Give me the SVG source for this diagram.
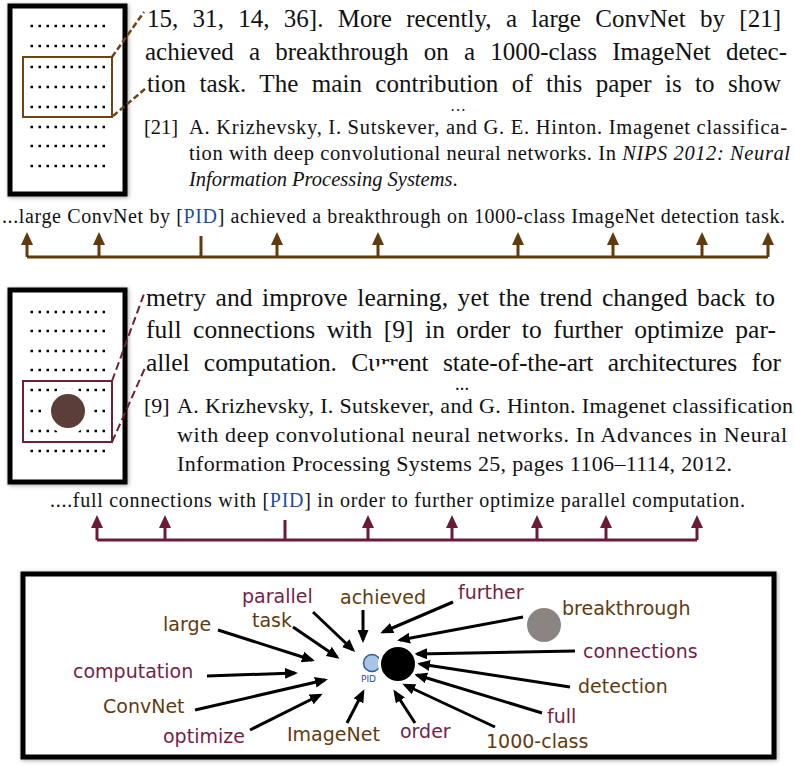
<svg xmlns="http://www.w3.org/2000/svg" width="795" height="766" viewBox="0 0 795 766">
<style>
.serif{font-family:"Liberation Serif","Times New Roman",serif;fill:#111}
.sans{font-family:"DejaVu Sans","Liberation Sans",sans-serif;font-size:19px}
.br{fill:#613b0d}
.mr{fill:#731f45}
.pid{fill:#1f4f9c}
.frame{fill:#fff;stroke:#000;stroke-width:5}
.dots{stroke:#000;stroke-width:2.5;stroke-dasharray:2.5 5.5}
.tlb{stroke:#613b0d;stroke-width:3;fill:none}
.tlm{stroke:#6b1a38;stroke-width:3;fill:none}
.ka{stroke:#000;stroke-width:3;fill:none;marker-end:url(#ak)}
</style>
<defs>
<filter id="sh" x="-10%" y="-10%" width="120%" height="120%"><feDropShadow dx="1" dy="1" stdDeviation="2" flood-color="#000" flood-opacity="0.35"/></filter>
<marker id="ak" markerWidth="13" markerHeight="11" refX="10" refY="5.5" orient="auto" markerUnits="userSpaceOnUse"><path d="M0,0 L13,5.5 L0,11 z" fill="#000"/></marker>
<marker id="ab" markerWidth="13" markerHeight="12" refX="0" refY="6" orient="auto" markerUnits="userSpaceOnUse"><path d="M0,0 L13,6 L0,12 z" fill="#613b0d"/></marker>
<marker id="am" markerWidth="13" markerHeight="12" refX="0" refY="6" orient="auto" markerUnits="userSpaceOnUse"><path d="M0,0 L13,6 L0,12 z" fill="#6b1a38"/></marker>
</defs>
<rect width="795" height="766" fill="#fff"/>

<!-- Section 1 page icon -->
<g id="page1">
<rect class="frame" x="10" y="6" width="115" height="188" filter="url(#sh)"/>
<line class="dots" x1="30.5" y1="26" x2="105" y2="26"/>
<line class="dots" x1="30.5" y1="46" x2="105" y2="46"/>
<line class="dots" x1="30.5" y1="67" x2="105" y2="67"/>
<line class="dots" x1="30.5" y1="87" x2="105" y2="87"/>
<line class="dots" x1="30.5" y1="107" x2="105" y2="107"/>
<line class="dots" x1="30.5" y1="127" x2="105" y2="127"/>
<line class="dots" x1="30.5" y1="146" x2="105" y2="146"/>
<line class="dots" x1="30.5" y1="166" x2="105" y2="166"/>
<rect x="23" y="57" width="89" height="60" fill="none" stroke="#6b4413" stroke-width="2"/>
<line x1="112" y1="57" x2="144" y2="12" stroke="#6b4413" stroke-width="2.5" stroke-dasharray="6 3"/>
<line x1="113" y1="116" x2="145" y2="89" stroke="#6b4413" stroke-width="2.5" stroke-dasharray="6 3"/>
</g>

<g id="text1" class="serif" font-size="25">
<text x="147" y="27" word-spacing="8" textLength="634" lengthAdjust="spacing">15, 31, 14, 36]. More recently, a large ConvNet by [21]</text>
<text x="145" y="60" word-spacing="9" textLength="642" lengthAdjust="spacing">achieved a breakthrough on a 1000-class ImageNet detec-</text>
<text x="147" y="92" word-spacing="7" textLength="634" lengthAdjust="spacing">tion task. The main contribution of this paper is to show</text>
<text x="450" y="111" font-size="16">…</text>
</g>
<g id="ref1" class="serif" font-size="20.5">
<text x="144" y="134">[21]</text>
<text x="189" y="134" textLength="598" lengthAdjust="spacing">A. Krizhevsky, I. Sutskever, and G. E. Hinton. Imagenet classifica-</text>
<text x="189" y="160" textLength="601" lengthAdjust="spacing">tion with deep convolutional neural networks. In <tspan font-style="italic">NIPS 2012: Neural</tspan></text>
<text x="189" y="186"><tspan font-style="italic">Information Processing Systems</tspan>.</text>
</g>

<g id="sentence1" class="serif" font-size="20">
<text x="2" y="223" textLength="783" lengthAdjust="spacing">...large ConvNet by [<tspan class="pid">PID</tspan>] achieved a breakthrough on 1000-class ImageNet detection task.</text>
</g>
<g id="connectors1">
<path class="tlb" d="M27,257 H768 M201,257 V236"/>
<path class="tlb" marker-end="url(#ab)" d="M27,257 V245"/>
<path class="tlb" marker-end="url(#ab)" d="M99,257 V245"/>
<path class="tlb" marker-end="url(#ab)" d="M277,257 V245"/>
<path class="tlb" marker-end="url(#ab)" d="M378,257 V245"/>
<path class="tlb" marker-end="url(#ab)" d="M518,257 V245"/>
<path class="tlb" marker-end="url(#ab)" d="M613,257 V245"/>
<path class="tlb" marker-end="url(#ab)" d="M702,257 V245"/>
<path class="tlb" marker-end="url(#ab)" d="M768,257 V245"/>
</g>

<!-- Section 2 page icon -->
<g id="page2">
<rect class="frame" x="10" y="290" width="115" height="192" filter="url(#sh)"/>
<line class="dots" x1="30.5" y1="312" x2="105" y2="312"/>
<line class="dots" x1="30.5" y1="331" x2="105" y2="331"/>
<line class="dots" x1="30.5" y1="351" x2="105" y2="351"/>
<line class="dots" x1="30.5" y1="370" x2="105" y2="370"/>
<line class="dots" x1="30.5" y1="390" x2="105" y2="390"/>
<line class="dots" x1="30.5" y1="411" x2="105" y2="411"/>
<line class="dots" x1="30.5" y1="431" x2="105" y2="431"/>
<line class="dots" x1="30.5" y1="451" x2="105" y2="451"/>
<circle cx="68" cy="411" r="23" fill="#fff"/>
<circle cx="68" cy="411" r="17" fill="#5b3e39"/>
<rect x="23" y="381" width="89" height="61" fill="none" stroke="#6e1f3c" stroke-width="2"/>
<line x1="112" y1="381" x2="144" y2="294" stroke="#6e1f3c" stroke-width="2" stroke-dasharray="8 4"/>
<line x1="112" y1="442" x2="145" y2="368" stroke="#6e1f3c" stroke-width="2" stroke-dasharray="8 4"/>
</g>

<g id="text2" class="serif" font-size="25.5">
<text x="146" y="306" word-spacing="3" textLength="629" lengthAdjust="spacing">metry and improve learning, yet the trend changed back to</text>
<text x="146" y="338" word-spacing="5" textLength="630" lengthAdjust="spacing">full connections with [9] in order to further optimize par-</text>
<text x="146" y="371" word-spacing="8" textLength="635" lengthAdjust="spacing">allel computation. Current state-of-the-art architectures for</text>
<circle cx="386" cy="379" r="15" fill="#fff"/>
<text x="455" y="390" font-size="14" font-weight="bold" letter-spacing="1">…</text>
</g>
<g id="ref2" class="serif" font-size="22">
<text x="144" y="413">[9]</text>
<text x="177" y="413" textLength="616" lengthAdjust="spacing">A. Krizhevsky, I. Sutskever, and G. Hinton. Imagenet classification</text>
<text x="177" y="442" textLength="610" lengthAdjust="spacing">with deep convolutional neural networks. In Advances in Neural</text>
<text x="177" y="471" textLength="555" lengthAdjust="spacing">Information Processing Systems 25, pages 1106–1114, 2012.</text>
</g>

<g id="sentence2" class="serif" font-size="20">
<text x="50" y="507" textLength="695" lengthAdjust="spacing">....full connections with [<tspan class="pid">PID</tspan>] in order to further optimize parallel computation.</text>
</g>
<g id="connectors2">
<path class="tlm" d="M97,540 H697 M285,540 V520"/>
<path class="tlm" marker-end="url(#am)" d="M97,540 V528"/>
<path class="tlm" marker-end="url(#am)" d="M165,540 V528"/>
<path class="tlm" marker-end="url(#am)" d="M368,540 V528"/>
<path class="tlm" marker-end="url(#am)" d="M452,540 V528"/>
<path class="tlm" marker-end="url(#am)" d="M537,540 V528"/>
<path class="tlm" marker-end="url(#am)" d="M606,540 V528"/>
<path class="tlm" marker-end="url(#am)" d="M697,540 V528"/>
</g>

<!-- Bottom graph -->
<rect class="frame" x="23" y="574" width="751" height="183" filter="url(#sh)"/>
<g id="connectors3">
<line class="ka" x1="218" y1="630" x2="312" y2="660"/>
<line class="ka" x1="293" y1="627" x2="337" y2="657"/>
<line class="ka" x1="313" y1="612" x2="353" y2="650"/>
<line class="ka" x1="363" y1="610" x2="363" y2="640"/>
<line class="ka" x1="453" y1="602" x2="383" y2="632"/>
<line class="ka" x1="523" y1="617" x2="400" y2="640"/>
<line class="ka" x1="575" y1="651" x2="417" y2="654"/>
<line class="ka" x1="570" y1="687" x2="420" y2="664"/>
<line class="ka" x1="542" y1="713" x2="417" y2="675"/>
<line class="ka" x1="495" y1="727" x2="405" y2="685"/>
<line class="ka" x1="415" y1="723" x2="395" y2="692"/>
<line class="ka" x1="347" y1="723" x2="363" y2="692"/>
<line class="ka" x1="250" y1="730" x2="320" y2="695"/>
<line class="ka" x1="195" y1="710" x2="325" y2="680"/>
<line class="ka" x1="207" y1="676" x2="295" y2="673"/>
</g>
<g id="pid-node">
<circle cx="372" cy="663" r="8.5" fill="#a9c4e4" stroke="#2a5aa0" stroke-width="1.5"/>
<text x="361" y="682" font-family="DejaVu Sans,sans-serif" font-size="9" class="pid">PID</text>
</g>
<g id="target-node"><circle cx="398" cy="664" r="18.5" fill="#000" stroke="#fff" stroke-width="3"/></g>
<g id="breakthrough-node"><circle cx="544" cy="625" r="17" fill="#8a8583"/></g>
<g id="labels" class="sans">
<text class="mr" x="242" y="603">parallel</text>
<text class="br" x="252" y="627">task</text>
<text class="br" x="163" y="631">large</text>
<text class="br" x="340" y="604">achieved</text>
<text class="mr" x="458" y="599">further</text>
<text class="br" x="562" y="615">breakthrough</text>
<text class="mr" x="583" y="658">connections</text>
<text class="br" x="578" y="693">detection</text>
<text class="mr" x="547" y="723">full</text>
<text class="br" x="486" y="748">1000-class</text>
<text class="mr" x="400" y="738">order</text>
<text class="br" x="287" y="741">ImageNet</text>
<text class="mr" x="163" y="743">optimize</text>
<text class="br" x="103" y="713">ConvNet</text>
<text class="mr" x="73" y="678">computation</text>
</g>
</svg>
